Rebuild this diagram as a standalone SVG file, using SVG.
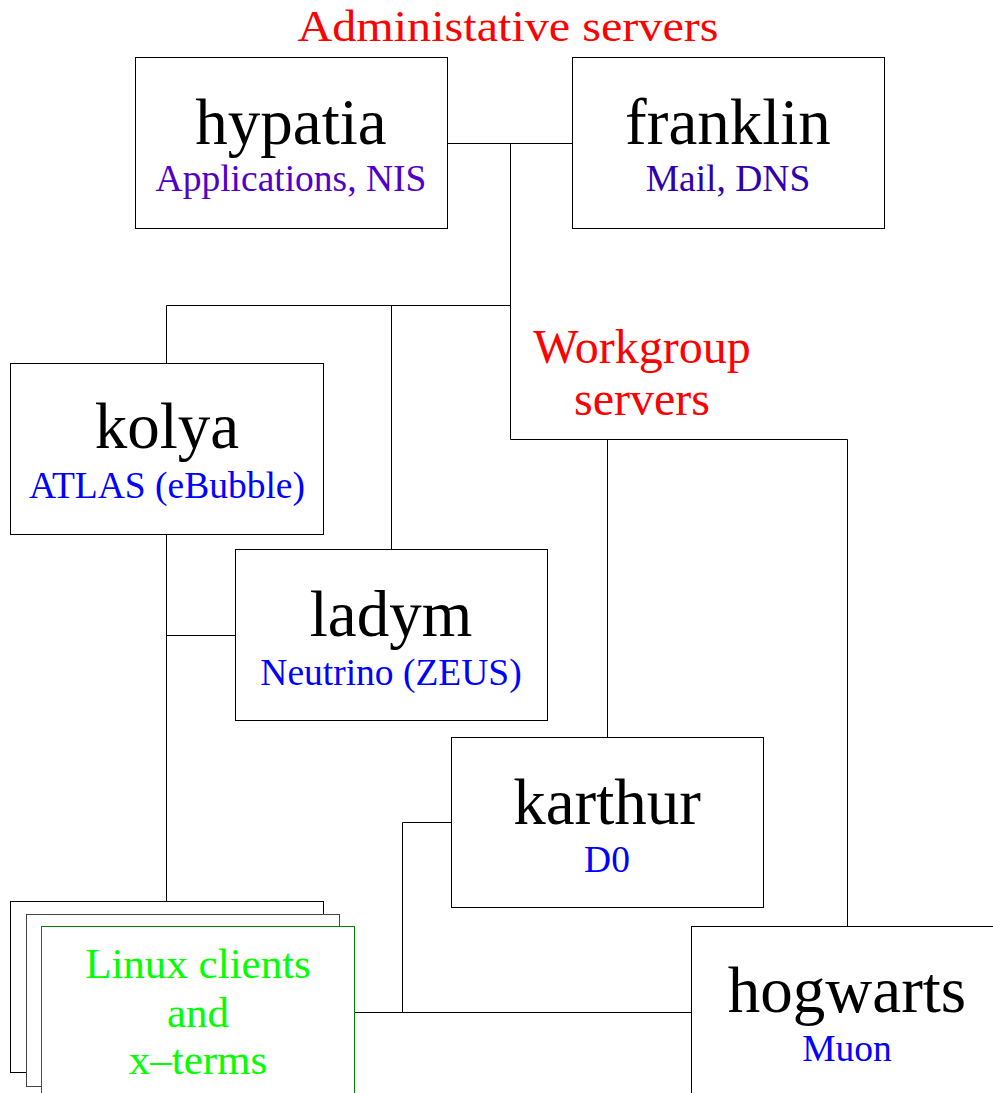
<svg xmlns="http://www.w3.org/2000/svg" width="993" height="1093" viewBox="0 0 993 1093">
<style>
text{font-family:"Liberation Serif","Times New Roman",serif;text-anchor:middle}
.box{fill:#fff;stroke:#000;stroke-width:1}
.name{font-size:65px;fill:#000}
.sub{font-size:37.5px;fill:#0000ff}
.title{font-size:48px;fill:#ff0000}
.wire{fill:none;stroke:#000;stroke-width:1}
</style>
<rect width="993" height="1093" fill="#fff"/>
<text class="title" x="508" y="41" style="font-size:45px" textLength="421" lengthAdjust="spacingAndGlyphs">Administative servers</text>
<g id="connectors">
<path class="wire" d="M447.5 143.5H572.5M510.5 143.5V439.5H847.5V926M166.5 305.5H510.5M166.5 305.5V363M391.5 305.5V549M607.5 439.5V737M166.5 535V901M166.5 635.5H235M451 822.5H402.5V1012.5M354 1012.5H691"/>
</g>
<text class="title" x="642" y="363">Workgroup</text>
<text class="title" x="642" y="415">servers</text>
<g id="hypatia">
<rect class="box" x="135.5" y="57.5" width="312" height="171"/>
<text class="name" x="291" y="144">hypatia</text>
<text class="sub" x="291" y="191" style="fill:#5000c8">Applications, NIS</text>
</g>
<g id="franklin">
<rect class="box" x="572.5" y="57.5" width="312" height="171"/>
<text class="name" x="728" y="144">franklin</text>
<text class="sub" x="728" y="191" style="fill:#3000b0">Mail, DNS</text>
</g>
<g id="kolya">
<rect class="box" x="10.5" y="363.5" width="313" height="171"/>
<text class="name" x="167" y="448">kolya</text>
<text class="sub" x="167" y="498">ATLAS (eBubble)</text>
</g>
<g id="ladym">
<rect class="box" x="235.5" y="549.5" width="312" height="171"/>
<text class="name" x="391" y="636">ladym</text>
<text class="sub" x="391" y="685">Neutrino (ZEUS)</text>
</g>
<g id="karthur">
<rect class="box" x="451.5" y="737.5" width="312" height="170"/>
<text class="name" x="607" y="824">karthur</text>
<text class="sub" x="607" y="872">D0</text>
</g>
<g id="hogwarts">
<rect class="box" x="691.5" y="926.5" width="312" height="180"/>
<text class="name" x="847" y="1012">hogwarts</text>
<text class="sub" x="847" y="1061">Muon</text>
</g>
<g id="linux-clients">
<rect class="box" x="10.5" y="901.5" width="313" height="171"/>
<rect class="box" x="26.5" y="914.5" width="313" height="172" style="stroke:#444"/>
<rect class="box" x="41.5" y="926.5" width="313" height="180" style="stroke:#008000"/>
<text x="198" y="978" style="font-size:43px;fill:#00ff00">Linux clients</text>
<text x="198" y="1027" style="font-size:43px;fill:#00ff00">and</text>
<text x="198" y="1074" style="font-size:43px;fill:#00ff00">x–terms</text>
</g>
</svg>
